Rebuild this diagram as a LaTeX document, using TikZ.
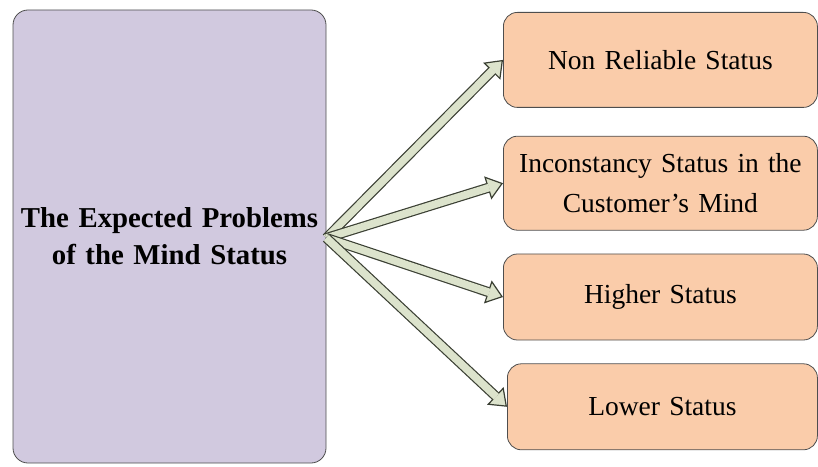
\documentclass[tikz,border=0pt]{standalone}
\usepackage{fontspec}
\setmainfont{Liberation Serif}
\usetikzlibrary{positioning,arrows.meta}
\definecolor{mindfill}{HTML}{D1C9DF}
\definecolor{statfill}{HTML}{FACCAA}
\definecolor{arrowfill}{HTML}{DCE3CC}
\definecolor{arrowedge}{HTML}{3A3F33}
\definecolor{boxedge}{HTML}{4E4E4E}
\tikzstyle{mbox}=[rectangle, rounded corners=15pt, draw=boxedge, fill=mindfill, thick,
                  minimum width=313pt, minimum height=453pt, inner sep=0pt,
                  text centered, text width=313pt, font=\fontsize{28.8}{37}\selectfont\bfseries]
\tikzstyle{sbox}=[rectangle, rounded corners=14pt, draw=boxedge, fill=statfill, thick,
                  minimum height=95pt, inner sep=0pt, text centered, text width=314pt,
                  font=\fontsize{27.5}{40}\selectfont]
\tikzstyle{fatarrow}=[draw=arrowedge, line width=10pt,
                  -{Triangle[length=16pt,width=24pt,line width=1.2pt,fill=arrowfill]},
                  postaction={draw=arrowfill, line width=7.6pt, arrows=-, shorten >=14.5pt}]
\begin{document}
\begin{tikzpicture}[node distance=0mm]
\useasboundingbox (0,0) rectangle (818pt,466pt);

\node (PROB) [mbox] at (169.5pt,229.5pt) {The Expected Problems\\ of the Mind Status};

\node (NRS) [sbox, anchor=north west] at (503pt,454pt) {Non Reliable Status};
\node (ICS) [sbox, minimum height=94pt, below=28pt of NRS] {Inconstancy Status in the\\ Customer's Mind};
\node (HS) [sbox, minimum height=86pt, below=23pt of ICS] {Higher Status};
\node (LS) [sbox, minimum height=86pt, text width=310pt, below=23pt of HS, xshift=2pt] {Lower Status};

 \draw[fatarrow] ([yshift=-1.5pt]PROB.east) -- (NRS.west);
 \draw[fatarrow] ([yshift=-1.5pt]PROB.east) -- (ICS.west);
 \draw[fatarrow] ([yshift=-1.5pt]PROB.east) -- (HS.west);
 \draw[fatarrow] ([yshift=-1.5pt]PROB.east) -- (LS.west);

\end{tikzpicture}
\end{document}
